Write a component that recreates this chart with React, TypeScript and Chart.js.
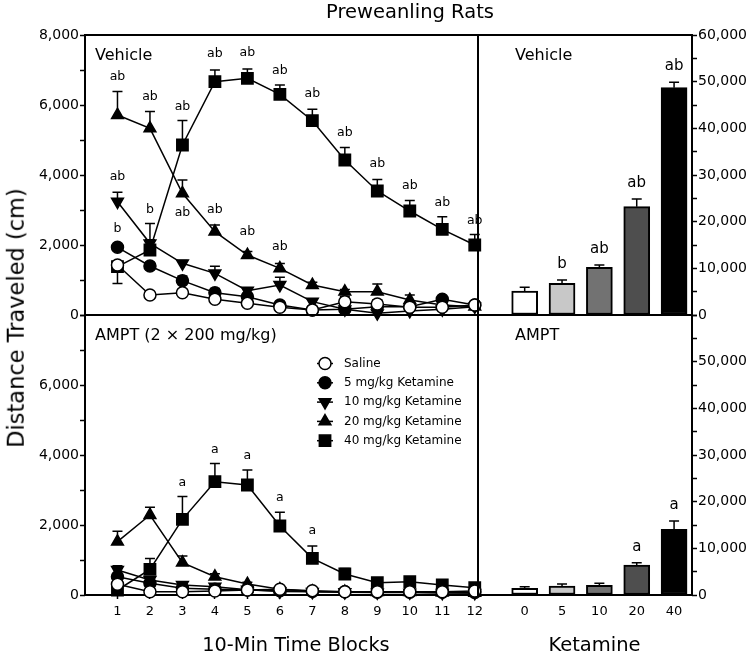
import React, { useEffect, useRef } from 'react';
import { Chart, registerables } from 'chart.js';

Chart.register(...registerables);

const FONT = '"DejaVu Sans", "Liberation Sans", sans-serif';

// ---------- data ----------
const blocks = [1, 2, 3, 4, 5, 6, 7, 8, 9, 10, 11, 12];
const seriesLabels = ['Saline', '5 mg/kg Ketamine', '10 mg/kg Ketamine', '20 mg/kg Ketamine', '40 mg/kg Ketamine'];

// Vehicle pretreatment (time course, cm)
const vehSaline = [1429, 571, 638, 448, 333, 219, 143, 381, 314, 219, 219, 286];
const vehK5 = [1933, 1400, 981, 638, 524, 286, 143, 162, 238, 238, 448, 286];
const vehK10 = [3238, 2048, 1476, 1190, 695, 857, 381, 162, 48, 114, 162, 238];
const vehK20 = [5714, 5333, 3476, 2381, 1714, 1333, 857, 667, 667, 429, 286, 238];
const vehK40 = [1380, 1857, 4857, 6667, 6762, 6305, 5552, 4429, 3543, 2971, 2448, 2000];
// SEM (negative = bar drawn downward)
const vehSalineErr = [0, 80, 100, 80, 60, 60, 50, 150, 120, 80, 60, 50];
const vehK5Err = [80, 80, 130, 120, 80, 60, 40, 40, 60, 60, 60, 40];
const vehK10Err = [270, 100, 80, 200, 80, 220, 80, 40, 40, 40, 40, 40];
const vehK20Err = [670, 480, 380, 190, 100, 140, 80, 60, 220, 140, 60, 40];
const vehK40Err = [-480, 760, 700, 330, 270, 270, 330, 360, 330, 300, 360, 300];

// AMPT pretreatment (time course, cm)
const amptSaline = [305, 95, 95, 114, 143, 162, 124, 95, 95, 95, 95, 114];
const amptK5 = [524, 333, 190, 162, 140, 120, 100, 90, 80, 80, 80, 70];
const amptK10 = [714, 429, 286, 238, 150, 100, 90, 80, 70, 70, 60, 60];
const amptK20 = [1524, 2286, 924, 524, 314, 162, 100, 90, 80, 80, 70, 60];
const amptK40 = [143, 733, 2162, 3238, 3143, 1971, 1048, 600, 352, 381, 286, 210];
const amptSalineErr = [60, 30, 30, 30, 30, 30, 30, 30, 30, 30, 30, 30];
const amptK5Err = [80, 60, 40, 30, 30, 30, 30, 30, 30, 30, 30, 30];
const amptK10Err = [120, 80, 50, 40, 30, 30, 30, 30, 30, 30, 30, 30];
const amptK20Err = [300, 220, 190, 80, 50, 40, 30, 30, 30, 30, 30, 30];
const amptK40Err = [50, 310, 650, 520, 430, 390, 350, 160, 80, 80, 60, 50];

// significance letters on the time courses: block, value level, text
const vehNotes = [
  { x: 1, y: 6809, t: 'ab' }, { x: 2, y: 6237, t: 'ab' }, { x: 3, y: 5951, t: 'ab' },
  { x: 4, y: 7457, t: 'ab' }, { x: 5, y: 7486, t: 'ab' }, { x: 6, y: 6980, t: 'ab' },
  { x: 7, y: 6334, t: 'ab' }, { x: 8, y: 5209, t: 'ab' }, { x: 9, y: 4314, t: 'ab' },
  { x: 10, y: 3694, t: 'ab' }, { x: 11, y: 3220, t: 'ab' }, { x: 12, y: 2694, t: 'ab' },
  { x: 3, y: 2923, t: 'ab' }, { x: 4, y: 3000, t: 'ab' }, { x: 5, y: 2380, t: 'ab' },
  { x: 6, y: 1951, t: 'ab' }, { x: 1, y: 3951, t: 'ab' }, { x: 2, y: 3000, t: 'b' },
  { x: 1, y: 2477, t: 'b' },
];
const amptNotes = [
  { x: 3, y: 3210, t: 'a' }, { x: 4, y: 4162, t: 'a' }, { x: 5, y: 3971, t: 'a' },
  { x: 6, y: 2790, t: 'a' }, { x: 7, y: 1838, t: 'a' },
];

// Total distance (bars)
const doseLabels = ['0', '5', '10', '20', '40'];
const vehTotals = [5143, 6786, 10214, 23214, 48714];
const vehTotalsErr = [790, 714, 500, 1643, 1143];
const vehTotalsNotes = ['', 'b', 'ab', 'ab', 'ab'];
const amptTotals = [1429, 1929, 2071, 6429, 14071];
const amptTotalsErr = [357, 428, 429, 500, 1786];
const amptTotalsNotes = ['', '', '', 'a', 'a'];

// tick labels
const leftTopLabels = [0, 2000, 4000, 6000, 8000];
const leftBottomLabels = [0, 2000, 4000, 6000];
const rightTopLabels = [0, 10000, 20000, 30000, 40000, 50000, 60000];
const rightBottomLabels = [0, 10000, 20000, 30000, 40000, 50000];

// ---------- styles ----------
const markerStyles = [
  { shape: 'circle', r: 6, rot: 0, fill: '#ffffff' },
  { shape: 'circle', r: 6, rot: 0, fill: '#000000' },
  { shape: 'triangle', r: 6.8, rot: 180, fill: '#000000' },
  { shape: 'triangle', r: 6.8, rot: 0, fill: '#000000' },
  { shape: 'rect', r: 8, rot: 0, fill: '#000000' },
];
const barColors = ['#ffffff', '#c8c8c8', '#727272', '#4e4e4e', '#000000'];

// ---------- plugins ----------
const framePlugin = {
  id: 'frame',
  beforeDatasetsDraw(chart: any) {
    const { ctx, chartArea: a } = chart;
    ctx.save();
    ctx.strokeStyle = '#000';
    ctx.lineWidth = 2;
    ctx.strokeRect(a.left, a.top, a.right - a.left, a.bottom - a.top);
    ctx.restore();
  },
};

function errPlugin(errs: number[][], under: boolean) {
  const draw = (chart: any) => {
    const ctx = chart.ctx;
    const ys = chart.scales.y;
    ctx.save();
    ctx.strokeStyle = '#000';
    ctx.lineWidth = 1.5;
    errs.forEach((arr, di) => {
      const meta = chart.getDatasetMeta(di);
      const ds = chart.data.datasets[di];
      arr.forEach((e, j) => {
        const el = meta.data[j];
        if (!el || !e) return;
        const raw = ds.data[j];
        const v = typeof raw === 'number' ? raw : raw.y;
        const y0 = ys.getPixelForValue(v);
        const y1 = ys.getPixelForValue(v + e);
        ctx.beginPath();
        ctx.moveTo(el.x, y0);
        ctx.lineTo(el.x, y1);
        ctx.moveTo(el.x - 5, y1);
        ctx.lineTo(el.x + 5, y1);
        ctx.stroke();
      });
    });
    ctx.restore();
  };
  return under ? { id: 'err', beforeDatasetsDraw: draw } : { id: 'err', afterDatasetsDraw: draw };
}

function notesPlugin(items: { x: number; y: number; t: string }[], size: number, dy: number) {
  return {
    id: 'notes',
    afterDatasetsDraw(chart: any) {
      const { ctx } = chart;
      const xs = chart.scales.x;
      const ys = chart.scales.y;
      ctx.save();
      ctx.font = `${size}px ${FONT}`;
      ctx.fillStyle = '#000';
      ctx.textAlign = 'center';
      ctx.textBaseline = 'middle';
      items.forEach((it) => {
        if (!it.t) return;
        ctx.fillText(it.t, xs.getPixelForValue(it.x), ys.getPixelForValue(it.y) + dy);
      });
      ctx.restore();
    },
  };
}

function panelLabelPlugin(text: string, dx: number, dy: number) {
  return {
    id: 'panelLabel',
    afterDatasetsDraw(chart: any) {
      const { ctx, chartArea: a } = chart;
      ctx.save();
      ctx.font = `16px ${FONT}`;
      ctx.fillStyle = '#000';
      ctx.textAlign = 'left';
      ctx.textBaseline = 'alphabetic';
      ctx.fillText(text, a.left + dx, a.top + dy);
      ctx.restore();
    },
  };
}

function drawMarker(ctx: CanvasRenderingContext2D, st: any, x: number, y: number) {
  ctx.beginPath();
  if (st.shape === 'circle') {
    ctx.arc(x, y, st.r, 0, Math.PI * 2);
  } else if (st.shape === 'rect') {
    const s = st.r * Math.SQRT1_2;
    ctx.rect(x - s, y - s, 2 * s, 2 * s);
  } else {
    let rad = (st.rot * Math.PI) / 180;
    const r = st.r;
    ctx.moveTo(x + Math.sin(rad) * r, y - Math.cos(rad) * r);
    rad += (2 * Math.PI) / 3;
    ctx.lineTo(x + Math.sin(rad) * r, y - Math.cos(rad) * r);
    rad += (2 * Math.PI) / 3;
    ctx.lineTo(x + Math.sin(rad) * r, y - Math.cos(rad) * r);
    ctx.closePath();
  }
  ctx.fillStyle = st.fill;
  ctx.fill();
  ctx.lineWidth = 1.5;
  ctx.strokeStyle = '#000';
  ctx.stroke();
}

const legendPlugin = {
  id: 'innerLegend',
  afterDatasetsDraw(chart: any) {
    const { ctx, chartArea: a } = chart;
    ctx.save();
    seriesLabels.forEach((lab, i) => {
      const cx = a.left + 240;
      const cy = a.top + 48.5 + i * 19.3;
      ctx.beginPath();
      ctx.moveTo(cx - 8, cy);
      ctx.lineTo(cx + 8, cy);
      ctx.lineWidth = 1.5;
      ctx.strokeStyle = '#000';
      ctx.stroke();
      drawMarker(ctx, markerStyles[i], cx, cy);
      ctx.font = `12px ${FONT}`;
      ctx.fillStyle = '#000';
      ctx.textAlign = 'left';
      ctx.textBaseline = 'middle';
      ctx.fillText(lab, cx + 19, cy);
    });
    ctx.restore();
  },
};

// ---------- builders ----------
function lineDatasets(vals: number[][]) {
  return vals.map((v, i) => ({
    label: seriesLabels[i],
    data: v.map((y, j) => ({ x: blocks[j], y })),
    borderColor: '#000',
    borderWidth: 1.5,
    pointStyle: markerStyles[i].shape,
    pointRadius: markerStyles[i].r,
    pointRotation: markerStyles[i].rot,
    pointBackgroundColor: markerStyles[i].fill,
    pointBorderColor: '#000',
    pointBorderWidth: 1.5,
    fill: false,
    tension: 0,
    clip: false,
  }));
}

function yAxis(max: number, step: number, labels: number[], position: 'left' | 'right', width: number) {
  return {
    type: 'linear',
    position,
    min: 0,
    max,
    afterFit: (s: any) => {
      s.width = width;
    },
    ticks: {
      stepSize: step,
      autoSkip: false,
      padding: 1,
      color: '#000',
      font: { family: FONT, size: 14 },
      callback: (v: number) => (labels.includes(v) ? v.toLocaleString('en-US') : ''),
    },
    grid: { drawOnChartArea: false, drawTicks: true, tickLength: 5, tickColor: '#000', tickWidth: 1.5 },
    border: { display: false },
  };
}

function lineXAxis(show: boolean) {
  return {
    type: 'linear',
    min: 0,
    max: 12.1,
    display: show,
    offset: false,
    afterFit: (s: any) => {
      s.height = show ? 58 : 0;
    },
    afterBuildTicks: (s: any) => {
      s.ticks = blocks.map((v) => ({ value: v }));
    },
    ticks: {
      autoSkip: false,
      maxRotation: 0,
      padding: 5,
      color: '#000',
      font: { family: FONT, size: 13 },
      callback: (v: number) => String(v),
    },
    grid: { drawOnChartArea: false, drawTicks: true, tickLength: 4, tickColor: '#000', tickWidth: 1.5 },
    border: { display: false },
  };
}

function barXAxis(show: boolean) {
  return {
    type: 'linear',
    min: -1.25,
    max: 4.48,
    display: show,
    offset: false,
    afterFit: (s: any) => {
      s.height = show ? 58 : 0;
    },
    afterBuildTicks: (s: any) => {
      s.ticks = doseLabels.map((_, i) => ({ value: i }));
    },
    ticks: {
      autoSkip: false,
      maxRotation: 0,
      padding: 9,
      color: '#000',
      font: { family: FONT, size: 13 },
      callback: (v: number) => doseLabels[v] ?? '',
    },
    grid: { drawOnChartArea: false, drawTicks: false, offset: false },
    border: { display: false },
  };
}

const baseOptions = {
  responsive: false,
  animation: false,
  events: [],
  plugins: { legend: { display: false }, tooltip: { enabled: false } },
};

function makeLineConfig(vals: number[][], errs: number[][], notes: any[], bottom: boolean, label: string) {
  return {
    type: 'line',
    data: { datasets: lineDatasets(vals) },
    options: {
      ...baseOptions,
      layout: { padding: bottom ? { top: 15, right: 12, bottom: 0, left: 0 } : { top: 35, right: 12, bottom: 15, left: 0 } },
      scales: {
        x: lineXAxis(bottom),
        y: yAxis(8000, 1000, bottom ? leftBottomLabels : leftTopLabels, 'left', 85),
      },
    },
    plugins: [
      framePlugin,
      errPlugin(errs, true),
      notesPlugin(notes, 12.5, 0),
      panelLabelPlugin(label, 10, 25),
      ...(bottom ? [legendPlugin] : []),
    ],
  };
}

function makeBarConfig(vals: number[], errs: number[], notes: string[], bottom: boolean, label: string) {
  return {
    type: 'bar',
    data: {
      datasets: [
        {
          label: 'Total',
          data: vals.map((y, i) => ({ x: i, y })),
          backgroundColor: barColors,
          borderColor: '#000',
          borderWidth: 2,
          borderSkipped: false,
          barThickness: 26,
        },
      ],
    },
    options: {
      ...baseOptions,
      layout: { padding: bottom ? { top: 15, right: 0, bottom: 0, left: 8 } : { top: 35, right: 0, bottom: 15, left: 8 } },
      scales: {
        x: barXAxis(bottom),
        y: yAxis(60000, 5000, bottom ? rightBottomLabels : rightTopLabels, 'right', 58),
      },
    },
    plugins: [
      framePlugin,
      errPlugin([errs], false),
      notesPlugin(vals.map((v, i) => ({ x: i, y: v + errs[i], t: notes[i] })), 15, -16),
      panelLabelPlugin(label, 37, 25),
    ],
  };
}

function ChartCanvas({ config, left, top, width, height }: any) {
  const ref = useRef<HTMLCanvasElement | null>(null);
  useEffect(() => {
    if (!ref.current) return;
    const chart = new Chart(ref.current, config);
    return () => chart.destroy();
  }, []);
  return (
    <canvas
      ref={ref}
      width={width}
      height={height}
      style={{ position: 'absolute', left, top, width, height }}
    />
  );
}

const textBase: React.CSSProperties = {
  position: 'absolute',
  fontFamily: FONT,
  lineHeight: 1,
  whiteSpace: 'nowrap',
  color: '#000',
};

export default function App() {
  const vehConfig = makeLineConfig(
    [vehSaline, vehK5, vehK10, vehK20, vehK40],
    [vehSalineErr, vehK5Err, vehK10Err, vehK20Err, vehK40Err],
    vehNotes,
    false,
    'Vehicle'
  );
  const amptConfig = makeLineConfig(
    [amptSaline, amptK5, amptK10, amptK20, amptK40],
    [amptSalineErr, amptK5Err, amptK10Err, amptK20Err, amptK40Err],
    amptNotes,
    true,
    'AMPT (2 × 200 mg/kg)'
  );
  const vehBars = makeBarConfig(vehTotals, vehTotalsErr, vehTotalsNotes, false, 'Vehicle');
  const amptBars = makeBarConfig(amptTotals, amptTotalsErr, amptTotalsNotes, true, 'AMPT');

  return (
    <div style={{ position: 'absolute', left: 0, top: 0, width: 750, height: 653, background: '#fff', overflow: 'hidden' }}>
      <ChartCanvas config={vehConfig} left={0} top={0} width={490} height={330} />
      <ChartCanvas config={amptConfig} left={0} top={300} width={490} height={353} />
      <ChartCanvas config={vehBars} left={470} top={0} width={280} height={330} />
      <ChartCanvas config={amptBars} left={470} top={300} width={280} height={353} />
      <div style={{ ...textBase, left: 410, top: 1.5, fontSize: 19.5, transform: 'translateX(-50%)' }}>Preweanling Rats</div>
      <div style={{ ...textBase, left: 296, top: 635, fontSize: 19.3, transform: 'translateX(-50%)' }}>10-Min Time Blocks</div>
      <div style={{ ...textBase, left: 594.5, top: 635, fontSize: 19.5, transform: 'translateX(-50%)' }}>Ketamine</div>
      <div style={{ ...textBase, left: 16, top: 318, fontSize: 22.5, transform: 'translate(-50%, -50%) rotate(-90deg)' }}>
        Distance Traveled (cm)
      </div>
    </div>
  );
}
